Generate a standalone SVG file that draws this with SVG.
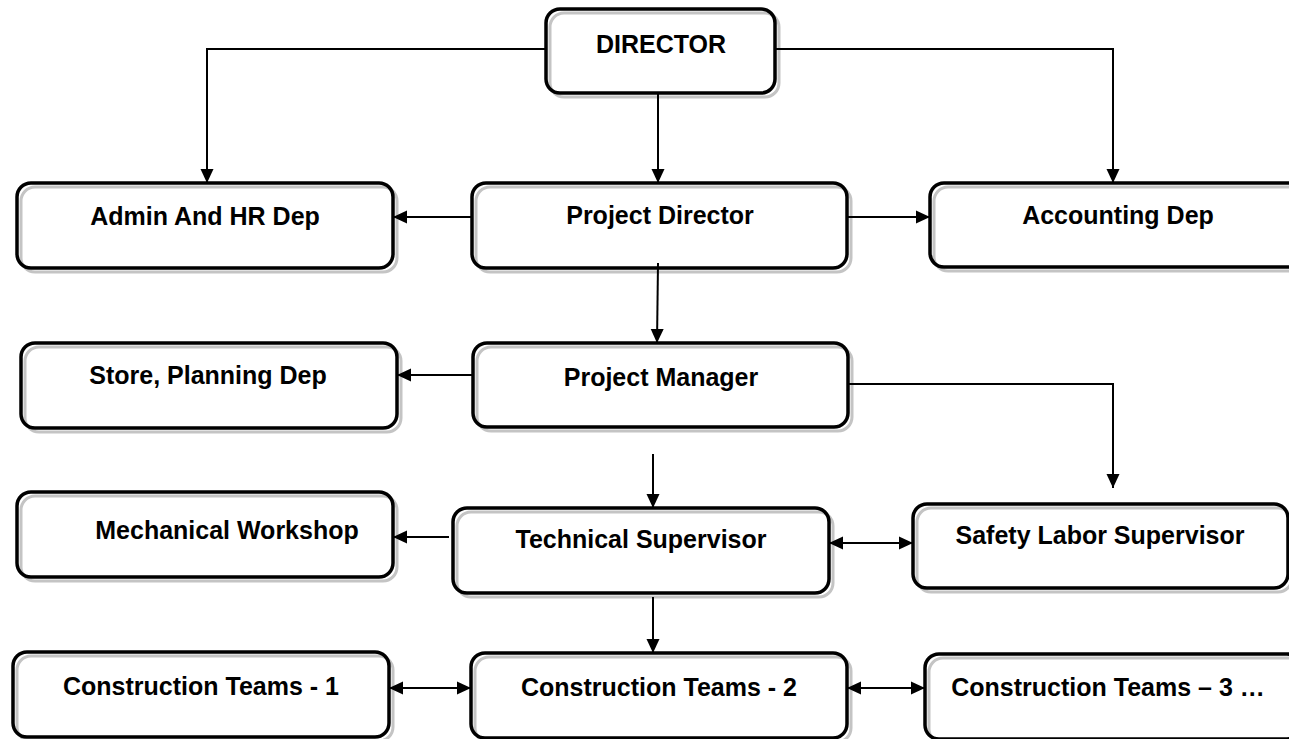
<svg xmlns="http://www.w3.org/2000/svg" width="1289" height="739" viewBox="0 0 1289 739">
<style>
.sh{fill:#fff;stroke:#c4c4c4;stroke-width:3}
.bx{fill:none;stroke:#000;stroke-width:3.5}
.t{font-family:"Liberation Sans",Arial,sans-serif;font-weight:bold;font-size:25px;fill:#000;text-anchor:middle}
.c{fill:none;stroke:#000;stroke-width:2}
</style>
<defs>
<marker id="ah" viewBox="0 0 14 14" refX="14" refY="7" markerWidth="14" markerHeight="14" markerUnits="userSpaceOnUse" orient="auto-start-reverse">
<path d="M0,0.5 L14,7 L0,13.5 z" fill="#000"/>
</marker>
</defs>
<rect width="1289" height="739" fill="#fff"/>
<g id="director"><rect class="sh" x="550" y="13" width="229" height="84" rx="14"/><rect class="bx" x="546" y="9" width="229" height="84" rx="14"/><text class="t" x="661" y="53">DIRECTOR</text></g>
<g id="admin"><rect class="sh" x="21" y="187" width="376" height="85" rx="14"/><rect class="bx" x="17" y="183" width="376" height="85" rx="14"/><text class="t" x="205" y="225">Admin And HR Dep</text></g>
<g id="project-director"><rect class="sh" x="476" y="187" width="375" height="85" rx="14"/><rect class="bx" x="472" y="183" width="375" height="85" rx="14"/><text class="t" x="660" y="224">Project Director</text></g>
<g id="accounting"><rect class="sh" x="934" y="187" width="376" height="84" rx="14"/><rect class="bx" x="930" y="183" width="376" height="84" rx="14"/><text class="t" x="1118" y="224">Accounting Dep</text></g>
<g id="store"><rect class="sh" x="25" y="347" width="376" height="85" rx="14"/><rect class="bx" x="21" y="343" width="376" height="85" rx="14"/><text class="t" x="208" y="384">Store, Planning Dep</text></g>
<g id="project-manager"><rect class="sh" x="477" y="347" width="375" height="84" rx="14"/><rect class="bx" x="473" y="343" width="375" height="84" rx="14"/><text class="t" x="661" y="386">Project Manager</text></g>
<g id="mechanical"><rect class="sh" x="21" y="496" width="376" height="85" rx="14"/><rect class="bx" x="17" y="492" width="376" height="85" rx="14"/><text class="t" x="227" y="539">Mechanical Workshop</text></g>
<g id="technical"><rect class="sh" x="457" y="512" width="376" height="85" rx="14"/><rect class="bx" x="453" y="508" width="376" height="85" rx="14"/><text class="t" x="641" y="548">Technical Supervisor</text></g>
<g id="safety"><rect class="sh" x="917" y="508" width="375" height="84" rx="14"/><rect class="bx" x="913" y="504" width="375" height="84" rx="14"/><text class="t" x="1100" y="544">Safety Labor Supervisor</text></g>
<g id="ct1"><rect class="sh" x="17" y="656" width="376" height="85" rx="14"/><rect class="bx" x="13" y="652" width="376" height="85" rx="14"/><text class="t" x="201" y="695">Construction Teams - 1</text></g>
<g id="ct2"><rect class="sh" x="475" y="657" width="376" height="85" rx="14"/><rect class="bx" x="471" y="653" width="376" height="85" rx="14"/><text class="t" x="659" y="696">Construction Teams - 2</text></g>
<g id="ct3"><rect class="sh" x="929" y="658" width="376" height="85" rx="14"/><rect class="bx" x="925" y="654" width="376" height="85" rx="14"/><text class="t" x="1108" y="696">Construction Teams – 3 …</text></g>
<g id="connectors">
<path class="c" d="M546,49 H207 V183" marker-end="url(#ah)"/>
<path class="c" d="M775,49 H1113 V183" marker-end="url(#ah)"/>
<path class="c" d="M658,93 V183" marker-end="url(#ah)"/>
<path class="c" d="M472,217 H393" marker-end="url(#ah)"/>
<path class="c" d="M847,217 H930" marker-end="url(#ah)"/>
<path class="c" d="M658,263 L657,343" marker-end="url(#ah)"/>
<path class="c" d="M473,375 H397" marker-end="url(#ah)"/>
<path class="c" d="M849,384 H1113 V488" marker-end="url(#ah)"/>
<path class="c" d="M653,454 V508" marker-end="url(#ah)"/>
<path class="c" d="M449,537 H393" marker-end="url(#ah)"/>
<path class="c" d="M829,543 H913" marker-start="url(#ah)" marker-end="url(#ah)"/>
<path class="c" d="M653,597 V653" marker-end="url(#ah)"/>
<path class="c" d="M389,688 H471" marker-start="url(#ah)" marker-end="url(#ah)"/>
<path class="c" d="M847,688 H925" marker-start="url(#ah)" marker-end="url(#ah)"/>
</g>
</svg>
